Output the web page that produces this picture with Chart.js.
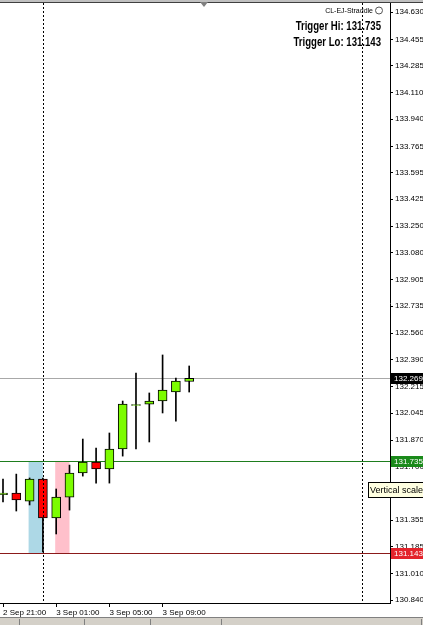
<!DOCTYPE html>
<html>
<head>
<meta charset="utf-8">
<script src="https://cdn.jsdelivr.net/npm/chart.js@4.4.1/dist/chart.umd.min.js"></script>
<style>
  html, body { margin: 0; padding: 0; background: #fff; }
  canvas { display: block; }
</style>
</head>
<body>
<canvas id="chart" width="423" height="625"></canvas>
<script>
// hourly bars, CL-EJ (EURJPY) H1
var times = ['2 Sep 21:00', '2 Sep 22:00', '2 Sep 23:00', '3 Sep 00:00', '3 Sep 01:00',
	'3 Sep 02:00', '3 Sep 03:00', '3 Sep 04:00', '3 Sep 05:00', '3 Sep 06:00',
	'3 Sep 07:00', '3 Sep 08:00', '3 Sep 09:00', '3 Sep 10:00', '3 Sep 11:00'];
var open  = [131.520, 131.530, 131.478, 131.620, 131.369, 131.504, 131.659, 131.730, 131.685, 131.814, 132.094, 132.102, 132.123, 132.181, 132.249];
var high  = [131.620, 131.652, 131.627, 131.627, 131.556, 131.710, 131.878, 131.820, 131.917, 132.123, 132.304, 132.175, 132.420, 132.271, 132.349];
var low   = [131.472, 131.414, 131.453, 131.150, 131.266, 131.420, 131.639, 131.594, 131.594, 131.768, 131.814, 131.859, 132.046, 131.994, 132.181];
var close = [131.530, 131.485, 131.620, 131.369, 131.504, 131.659, 131.730, 131.685, 131.814, 132.104, 132.100, 132.122, 132.194, 132.252, 132.269];

var priceTicks = [134.630, 134.455, 134.285, 134.110, 133.940, 133.765, 133.595, 133.425, 133.250,
	133.080, 132.905, 132.735, 132.560, 132.390, 132.215, 132.045, 131.870, 131.700, 131.525,
	131.355, 131.185, 131.010, 130.840];
var timeTickIdx = [0, 4, 8, 12];
var daySeparators = [3, 27];

var triggerHi = 131.735;
var triggerLo = 131.143;
var bid = 132.269;

// session boxes: [from bar, to bar]
var zoneBlue = [2, 3];
var zonePink = [4, 5];

var GREEN = '#7cfc00';
var RED = '#ff0000';

var bodies = [], wicks = [];
for (var i = 0; i < times.length; i++) {
	bodies.push({x: i, y: [open[i], close[i]]});
	wicks.push({x: i, y: [low[i], high[i]]});
}

function levelBox(ctx, area, yScale, value, bg) {
	var y = Math.round(yScale.getPixelForValue(value));
	ctx.fillStyle = bg;
	ctx.fillRect(area.right + 1, y - 5, 32, 11);
	ctx.fillStyle = '#fff';
	ctx.font = '8px "Liberation Sans", Arial, sans-serif';
	ctx.textAlign = 'left';
	ctx.textBaseline = 'middle';
	ctx.fillText(value.toFixed(3), area.right + 4, y + 0.5);
}

var overlay = {
	id: 'overlay',
	beforeDatasetsDraw: function(chart) {
		var ctx = chart.ctx, a = chart.chartArea;
		var xs = chart.scales.x, ys = chart.scales.y;
		ctx.save();
		var top = ys.getPixelForValue(triggerHi), bot = ys.getPixelForValue(triggerLo);
		ctx.fillStyle = '#add8e6';
		var x1 = xs.getPixelForValue(zoneBlue[0]) - 1, x2 = xs.getPixelForValue(zoneBlue[1]);
		ctx.fillRect(x1, top, x2 - x1, bot - top);
		ctx.fillStyle = '#ffc0cb';
		x1 = xs.getPixelForValue(zonePink[0]) - 1; x2 = xs.getPixelForValue(zonePink[1]);
		ctx.fillRect(x1, top, x2 - x1, bot - top);

		ctx.lineWidth = 1;
		var lv = [[bid, '#a8a8a8'], [triggerHi, '#1e7d1e'], [triggerLo, '#8b1a1a']];
		for (var k = 0; k < lv.length; k++) {
			var y = Math.round(ys.getPixelForValue(lv[k][0])) + 0.5;
			ctx.strokeStyle = lv[k][1];
			ctx.beginPath();
			ctx.moveTo(a.left, y);
			ctx.lineTo(a.right, y);
			ctx.stroke();
		}
		ctx.restore();
	},
	afterDatasetsDraw: function(chart) {
		var ctx = chart.ctx, a = chart.chartArea, xs = chart.scales.x;
		ctx.save();
		ctx.strokeStyle = '#000';
		ctx.lineWidth = 1;
		ctx.setLineDash([2, 2]);
		daySeparators.forEach(function(d) {
			var x = Math.round(xs.getPixelForValue(d)) + 0.5;
			ctx.beginPath();
			ctx.moveTo(x, a.top);
			ctx.lineTo(x, a.bottom);
			ctx.stroke();
		});
		ctx.restore();
	},
	afterDraw: function(chart) {
		var ctx = chart.ctx, a = chart.chartArea, ys = chart.scales.y;
		ctx.save();
		levelBox(ctx, a, ys, bid, '#000');
		levelBox(ctx, a, ys, triggerHi, '#1a8a1a');
		levelBox(ctx, a, ys, triggerLo, '#e3232b');

		// indicator caption
		ctx.fillStyle = '#000';
		ctx.textBaseline = 'middle';
		ctx.textAlign = 'right';
		ctx.font = '7px "Liberation Sans", Arial, sans-serif';
		ctx.fillText('CL-EJ-Straddle', 373, 11);
		ctx.beginPath();
		ctx.arc(379, 10.5, 3.5, 0, Math.PI * 2);
		ctx.strokeStyle = '#555';
		ctx.stroke();

		ctx.save();
		ctx.translate(381, 0);
		ctx.scale(0.8, 1);
		ctx.font = 'bold 12px "Liberation Sans", Arial, sans-serif';
		ctx.textAlign = 'right';
		ctx.fillText('Trigger Hi: ' + triggerHi.toFixed(3), 0, 27);
		ctx.fillText('Trigger Lo: ' + triggerLo.toFixed(3), 0, 43);
		ctx.restore();

		// hint box over the scale
		ctx.fillStyle = '#ffffe1';
		ctx.fillRect(368.5, 482.5, 60, 15);
		ctx.strokeStyle = '#000';
		ctx.lineWidth = 1;
		ctx.strokeRect(368.5, 482.5, 60, 15);
		ctx.fillStyle = '#000';
		ctx.textAlign = 'left';
		ctx.font = '9px "Liberation Sans", Arial, sans-serif';
		ctx.fillText('Vertical scale', 370, 490.5);

		// frame top and shift marker
		ctx.fillStyle = '#c0c0c0';
		ctx.fillRect(0, 0, 423, 2);
		ctx.fillStyle = '#404040';
		ctx.fillRect(0, 2, 423, 1);
		ctx.fillStyle = '#808080';
		ctx.beginPath();
		ctx.moveTo(200, 2);
		ctx.lineTo(208, 2);
		ctx.lineTo(204, 7);
		ctx.closePath();
		ctx.fill();

		// tab strip
		ctx.fillStyle = '#d4d0c8';
		ctx.fillRect(0, 617, 423, 8);
		ctx.fillStyle = '#808080';
		ctx.fillRect(0, 617, 423, 1);
		[19, 84, 150, 221, 421].forEach(function(x) { ctx.fillRect(x, 619, 1, 6); });
		ctx.restore();
	}
};

var ctx1 = document.getElementById('chart');
var chart1 = new Chart(ctx1, {
	type: 'bar',
	data: {
		datasets: [
			{
				label: 'wick',
				data: wicks,
				backgroundColor: '#000',
				barThickness: 1,
				grouped: false,
				order: 2
			},
			{
				label: 'body',
				data: bodies,
				backgroundColor: function(c) {
					var i = c.dataIndex;
					return close[i] >= open[i] ? GREEN : RED;
				},
				borderColor: '#000',
				borderWidth: 1,
				borderSkipped: false,
				barThickness: 9,
				grouped: false,
				order: 1
			}
		]
	},
	plugins: [overlay],
	options: {
		responsive: false,
		animation: false,
		layout: { padding: { top: 3, left: 0, right: 0, bottom: 0 } },
		plugins: { legend: { display: false }, tooltip: { enabled: false } },
		scales: {
			x: {
				type: 'linear',
				offset: false,
				min: -0.2256,
				max: 29.1,
				afterBuildTicks: function(scale) {
					scale.ticks = timeTickIdx.map(function(v) { return {value: v}; });
				},
				afterFit: function(scale) {
					scale.height = 22;
					scale.paddingLeft = 0;
					scale.paddingRight = 0;
				},
				grid: { offset: false, drawOnChartArea: false, tickLength: 4, color: '#000' },
				border: { display: true, color: '#000' },
				ticks: {
					autoSkip: false,
					maxRotation: 0,
					align: 'start',
					padding: 1,
					color: '#000',
					font: { family: '"Liberation Sans", Arial, sans-serif', size: 8 },
					callback: function(v) { return times[v]; }
				}
			},
			y: {
				position: 'right',
				min: 130.821,
				max: 134.689,
				afterBuildTicks: function(scale) {
					scale.ticks = priceTicks.map(function(v) { return {value: v}; });
				},
				afterFit: function(scale) {
					scale.width = 33;
					scale.paddingTop = 0;
					scale.paddingBottom = 0;
				},
				grid: { drawOnChartArea: false, tickLength: 3, color: '#000' },
				border: { display: true, color: '#000' },
				ticks: {
					autoSkip: false,
					padding: 2,
					color: '#000',
					font: { family: '"Liberation Sans", Arial, sans-serif', size: 8 },
					callback: function(v) { return v.toFixed(3); }
				}
			}
		}
	}
});
</script>
</body>
</html>
